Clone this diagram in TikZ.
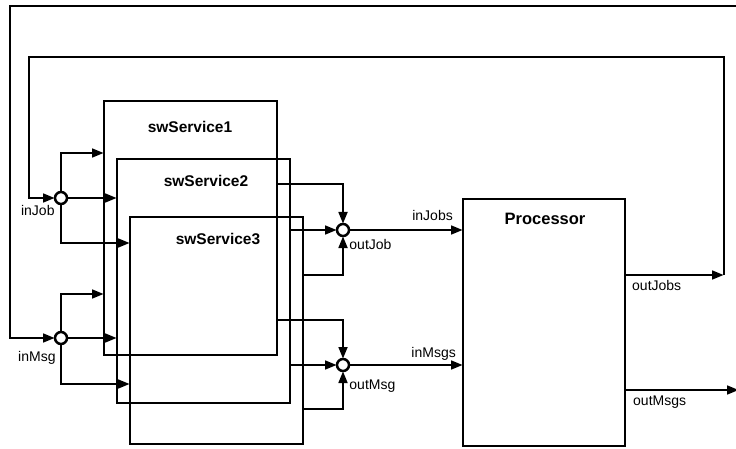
\documentclass[tikz,border=0pt]{standalone}
\usepackage{fontspec}
\setmainfont{Liberation Sans}
\usepackage{tikz}
\usetikzlibrary{arrows.meta}

\tikzset{
	wire/.style={line width=2.9pt},
	arr/.style={-{Triangle[length=12pt,width=8.5pt]}},
	blk/.style={draw, line width=2.9pt, rectangle, anchor=north west, inner sep=0pt, outer sep=0pt},
	junc/.style={draw, circle, line width=2.5pt, fill=white, minimum size=12pt, inner sep=0pt, outer sep=0pt},
	ttl/.style={font=\fontsize{15.5}{18}\selectfont\bfseries},
	lbl/.style={font=\fontsize{14}{16}\selectfont, inner sep=1pt},
}

\begin{document}
\begin{tikzpicture}[x=1pt, y=-1pt]
				\useasboundingbox (0,0) rectangle (736,449);

				% Service blocks
				\node[blk, minimum width=173pt, minimum height=254pt] (s1) at (104,101) {};
				\node[blk, minimum width=173pt, minimum height=244pt] (s2) at (117,159) {};
				\node[blk, minimum width=173pt, minimum height=227pt] (s3) at (130,217) {};
				\node[blk, minimum width=162pt, minimum height=247pt] (proc) at (463,199) {};

				% Block titles
				\node[ttl] (t1) at (190,127) {swService1};
				\node[ttl] (t2) at (206,181) {swService2};
				\node[ttl] (t3) at (218,239) {swService3};
				\node[ttl, font=\fontsize{16.5}{19}\selectfont\bfseries] (tp) at (545,219) {Processor};

				% Junctions
				\node[junc] (jIn)  at (61,198)  {};
				\node[junc] (mIn)  at (61,338)  {};
				\node[junc] (oJob) at (343,230) {};
				\node[junc] (oMsg) at (343,365) {};

				% Loop corners and processor ports
				\coordinate (loopA)    at (10,6);
				\coordinate (loopAend) at (742,6);
				\coordinate (loopB)    at (29,57);
				\coordinate (jobsBack) at (724,275);
				\coordinate (msgsOut)  at (739,390);
				\coordinate (pInJobs)  at (proc.west |- oJob);
				\coordinate (pInMsgs)  at (proc.west |- oMsg);
				\coordinate (pOutJobs) at (proc.east |- jobsBack);
				\coordinate (pOutMsgs) at (proc.east |- msgsOut);

				% Feedback loops
				\draw[wire, arr] (loopAend) -- (loopA) |- (mIn);
				\draw[wire, arr] (pOutJobs) -- (jobsBack);
				\draw[wire, arr] (jobsBack) |- (loopB) |- (jIn);
				\draw[wire, arr] (pOutMsgs) -- (msgsOut);

				% Fan-out to the services
				\draw[wire, arr] (jIn) |- (s1.west |- 0,153);
				\draw[wire, arr] (jIn) -- (s2.west |- jIn);
				\draw[wire, arr] (jIn) |- (s3.west |- 0,243);
				\draw[wire, arr] (mIn) |- (s1.west |- 0,294);
				\draw[wire, arr] (mIn) -- (s2.west |- mIn);
				\draw[wire, arr] (mIn) |- (s3.west |- 0,384);

				% Merge from the services
				\draw[wire, arr] (s1.east |- 0,184) -| (oJob);
				\draw[wire, arr] (s2.east |- oJob) -- (oJob);
				\draw[wire, arr] (s3.east |- 0,275) -| (oJob);
				\draw[wire, arr] (s1.east |- 0,320) -| (oMsg);
				\draw[wire, arr] (s2.east |- oMsg) -- (oMsg);
				\draw[wire, arr] (s3.east |- 0,409) -| (oMsg);

				% Into the processor
				\draw[wire, arr] (oJob) -- (pInJobs);
				\draw[wire, arr] (oMsg) -- (pInMsgs);

				% Port labels
				\node[lbl, anchor=north east] (lInJob)  at ([xshift=-1pt, yshift=-2pt]jIn.south west) {inJob};
				\node[lbl, anchor=north east] (lInMsg)  at ([yshift=-8pt]mIn.south west) {inMsg};
				\node[lbl, anchor=north west] (lOutJob) at ([xshift=1pt, yshift=-4pt]oJob.south east) {outJob};
				\node[lbl, anchor=north west] (lOutMsg) at ([xshift=1pt, yshift=-9pt]oMsg.south east) {outMsg};
				\node[lbl, anchor=base east]  (lInJobs) at ([xshift=-9pt, yshift=10pt]pInJobs) {inJobs};
				\node[lbl, anchor=base east]  (lInMsgs) at ([xshift=-6pt, yshift=8pt]pInMsgs) {inMsgs};
				\node[lbl, anchor=north west] (lOutJobs) at ([xshift=6pt, yshift=-4pt]pOutJobs) {outJobs};
				\node[lbl, anchor=north west] (lOutMsgs) at ([xshift=7pt, yshift=-5pt]pOutMsgs) {outMsgs};

\end{tikzpicture}
\end{document}
